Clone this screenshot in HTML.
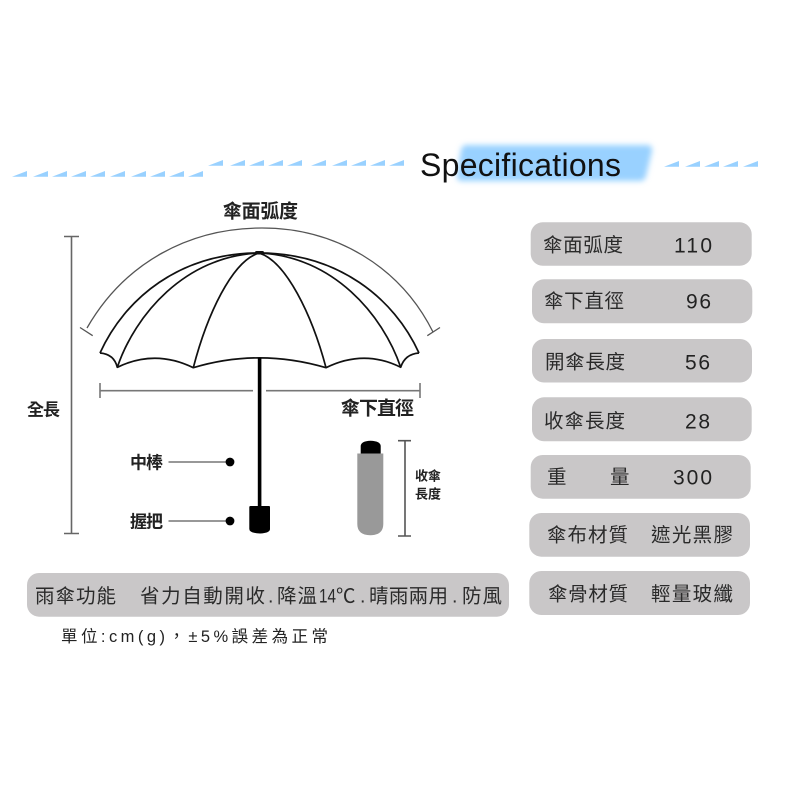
<!DOCTYPE html>
<html>
<head>
<meta charset="utf-8">
<style>
html,body{margin:0;padding:0;background:#fff;width:800px;height:800px;overflow:hidden}
svg{display:block}
text{font-family:"Liberation Sans","Noto Sans CJK TC",sans-serif;fill:#222}
.n{font-size:19.5px;font-family:"Noto Sans CJK TC","Liberation Sans",sans-serif;fill:#2a2a2a}
.d{font-size:21px;font-family:"Liberation Sans",sans-serif;fill:#222}
.b{font-weight:700;fill:#222;font-family:"Noto Sans CJK TC","Liberation Sans",sans-serif}
</style>
</head>
<body>
<svg width="800" height="800" viewBox="0 0 800 800" xmlns="http://www.w3.org/2000/svg">
<defs>
<filter id="bl" x="-10%" y="-30%" width="120%" height="160%"><feGaussianBlur stdDeviation="3"/></filter>
<polygon id="t" points="0,5.7 15,0 15,5.7" fill="#99d1ff"/>
</defs>

<!-- header triangles -->
<g>
<use href="#t" x="12" y="171"/><use href="#t" x="33" y="171"/><use href="#t" x="52" y="171"/><use href="#t" x="71" y="171"/><use href="#t" x="90" y="171"/><use href="#t" x="110" y="171"/><use href="#t" x="131" y="171"/><use href="#t" x="150" y="171"/><use href="#t" x="169" y="171"/><use href="#t" x="188" y="171"/>
<use href="#t" x="208" y="160"/><use href="#t" x="230" y="160"/><use href="#t" x="249" y="160"/><use href="#t" x="268" y="160"/><use href="#t" x="287" y="160"/><use href="#t" x="311" y="160"/><use href="#t" x="332" y="160"/><use href="#t" x="351" y="160"/><use href="#t" x="370" y="160"/><use href="#t" x="389" y="160"/>
<use href="#t" x="664" y="161"/><use href="#t" x="685" y="161"/><use href="#t" x="704" y="161"/><use href="#t" x="723" y="161"/><use href="#t" x="743" y="161"/>
</g>

<!-- title -->
<path d="M466,145 H647 Q653,145 652,151 L646,176 Q645,181 640,181 H462 Q456,181 457,175 L461,150 Q462,145 466,145 Z" fill="#99d1ff" filter="url(#bl)"/>
<text x="420" y="176" font-size="32" textLength="201" lengthAdjust="spacing" style="font-family:'Liberation Sans',sans-serif;fill:#111">Specifications</text>

<!-- arc + dims -->
<path d="M87,328 C125,262 190,228 262,228 C335,228 400,266 433,332" fill="none" stroke="#555" stroke-width="1.3"/>
<path d="M80,327.5 L92.7,335.7 M440,327.5 L427.3,335.7" stroke="#555" stroke-width="1.3"/>
<path d="M71.5,236 V534 M64,236.5 H79 M64,533.5 H79" stroke="#666" stroke-width="1.6" fill="none"/>
<path d="M100,383 V398 M100,390.7 H253 M266,390.7 H420 M420,383 V398" stroke="#777" stroke-width="1.6" fill="none"/>

<!-- canopy -->
<g fill="none" stroke="#111" stroke-width="1.7" stroke-linejoin="round">
<path d="M100,353 C125,298 180,253 259,253 C338,253 394,298 419,353"/>
<path d="M117.300,367.300 C135,315 185,256 259,253 C333,256 383,315 400.700,367.300"/>
<path d="M193.300,367.700 C207,315 232,261 259,253 C286,261 312,315 326,367.700"/>
<path d="M100,353 Q114,354 117.300,367.300 Q155,349 193.300,367.700 Q259,348 326,367.700 Q364,349 400.700,367.300 Q405,354 419,353"/>
</g>
<rect x="255" y="251" width="9" height="3.500" rx="1.500" fill="#111"/>

<!-- shaft + handle -->
<rect x="257.800" y="358" width="3.600" height="150" fill="#000"/>
<path d="M250.500,506 H269 Q270,506 270,507 V529 Q270,533 260,533.500 Q249.300,533 249.300,529 V507 Q249.300,506 250.500,506 Z" fill="#000"/>

<!-- callouts -->
<path d="M168.500,462 H228 M168.500,521 H228" stroke="#777" stroke-width="1.6"/>
<circle cx="230" cy="462" r="4.400" fill="#000"/>
<circle cx="230" cy="521" r="4.400" fill="#000"/>

<!-- closed umbrella -->
<path d="M360.700,453.500 V446 Q361,441 370.500,440.700 Q380.500,441 380.700,446 V453.500 Z" fill="#000"/>
<path d="M357.300,453.500 H383.300 V524 Q383.300,535 370.300,535.300 Q357.300,535 357.300,524 Z" fill="#999"/>
<path d="M405,440.700 V536 M398,440.700 H411 M398,536 H411" stroke="#555" stroke-width="1.600" fill="none"/>

<!-- diagram labels -->
<text class="b" x="223" y="217.500" font-size="19" textLength="75">傘面弧度</text>
<text class="b" x="341" y="414.500" font-size="19" textLength="73">傘下直徑</text>
<text class="b" x="27" y="415.500" font-size="17" textLength="33">全長</text>
<text class="b" x="130" y="468.500" font-size="17" textLength="33">中棒</text>
<text class="b" x="130" y="527.500" font-size="17" textLength="33">握把</text>
<text class="b" x="415" y="480.500" font-size="13" textLength="26">收傘</text>
<text class="b" x="415" y="498.500" font-size="13" textLength="26">長度</text>

<!-- spec pills -->
<g fill="#c9c7c8">
<rect x="530.700" y="222.300" width="221" height="43.500" rx="12"/>
<rect x="532" y="279.300" width="220.300" height="44" rx="12"/>
<rect x="532" y="339" width="220" height="43.500" rx="12"/>
<rect x="532" y="397.300" width="219.700" height="44" rx="12"/>
<rect x="530.700" y="455" width="220" height="43.700" rx="12"/>
<rect x="529.300" y="513" width="220.700" height="43.700" rx="12"/>
<rect x="529.300" y="571" width="220.700" height="44" rx="12"/>
<rect x="27" y="573" width="482" height="43.700" rx="12"/>
</g>

<text class="n" x="543" y="251.500" textLength="80">傘面弧度</text>
<text class="d" x="674" y="252.500" textLength="38">110</text>
<text class="n" x="544" y="307.500" textLength="80">傘下直徑</text>
<text class="d" x="686" y="308.500" textLength="25">96</text>
<text class="n" x="545" y="368.500" textLength="80">開傘長度</text>
<text class="d" x="685" y="369.500" textLength="25">56</text>
<text class="n" x="544" y="427.500" textLength="81">收傘長度</text>
<text class="d" x="685" y="428.500" textLength="25">28</text>
<text class="n" x="547" y="483.500">重</text>
<text class="n" x="610" y="483.500">量</text>
<text class="d" x="673" y="484.500" textLength="39">300</text>
<text class="n" x="547" y="541.500" textLength="81">傘布材質</text>
<text class="n" x="651" y="541.500" textLength="82">遮光黑膠</text>
<text class="n" x="548" y="600.500" textLength="80">傘骨材質</text>
<text class="n" x="651" y="600.500" textLength="82">輕量玻纖</text>

<!-- function row -->
<text class="n" x="35" y="602.500" textLength="81">雨傘功能</text>
<text class="n" x="140" y="602.500" textLength="125">省力自動開收</text>
<text class="n" x="268" y="602.500" style="font-family:'Liberation Sans'">.</text>
<text class="n" x="277" y="602.500" textLength="40">降溫</text>
<text class="n" x="319" y="602.500" style="font-family:'Liberation Sans'" textLength="17" lengthAdjust="spacingAndGlyphs">14</text>
<text class="n" x="336" y="602.500" textLength="20">℃</text>
<text class="n" x="360" y="602.500" style="font-family:'Liberation Sans'">.</text>
<text class="n" x="369" y="602.500" textLength="79">晴雨兩用</text>
<text class="n" x="452" y="602.500" style="font-family:'Liberation Sans'">.</text>
<text class="n" x="462" y="602.500" textLength="40">防風</text>

<text x="61" y="642" font-size="16.500" textLength="267" style="fill:#222">單位:cm(g)，±5%誤差為正常</text>
</svg>
</body>
</html>
